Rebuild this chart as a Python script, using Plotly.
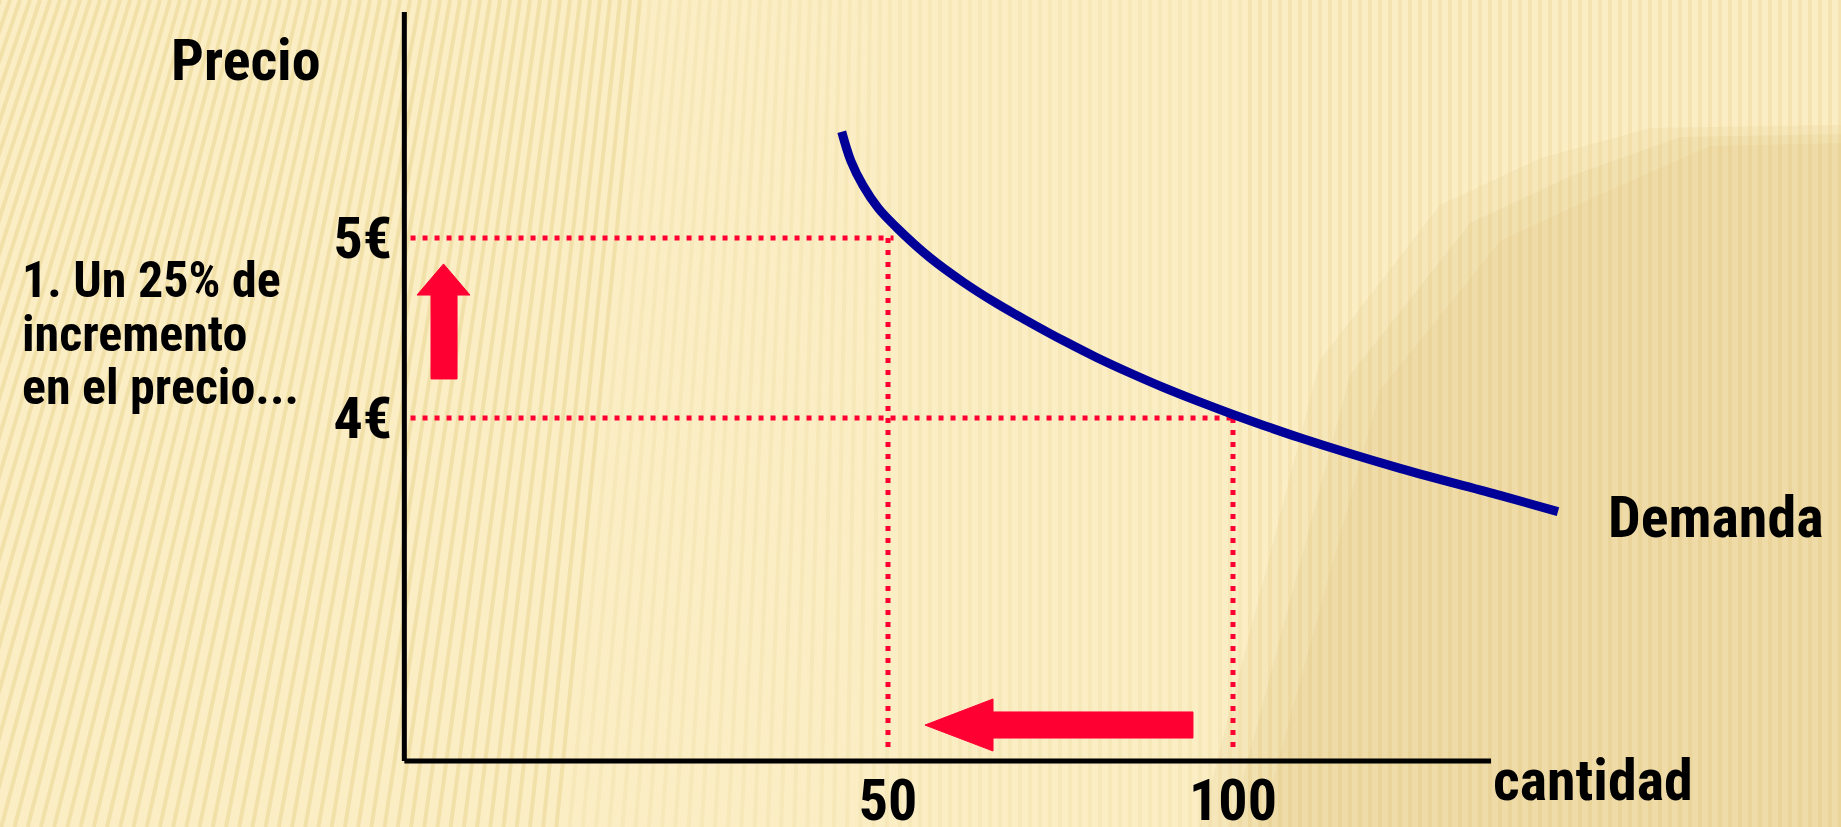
import plotly.graph_objects as go

# Demand curve: quantity (units) and price (€)
cantidad = [43.3, 44.6, 46.4, 48.6, 51.2, 56.1, 60.9, 65.8, 70.6, 75.4,
            80.3, 85.1, 89.9, 94.8, 100.0, 109.7, 124.2, 138.7, 147.1]
precio = [5.59, 5.43, 5.29, 5.165, 5.06, 4.89, 4.755, 4.635, 4.53, 4.43,
          4.335, 4.25, 4.17, 4.095, 4.02, 3.89, 3.72, 3.57, 3.48]

# Marked points: price goes from 4€ to 5€, quantity from 100 to 50
precios_marcados = [5, 4]
cantidades_marcadas = [50, 100]
etiquetas_precio = ["5€", "4€"]
etiquetas_cantidad = ["50", "100"]

W, H = 1841, 827
X_RANGE = [-78.70, 188.12]
Y_RANGE = [1.7278, 6.3222]
Q0, P0 = -20.1, 2.094          # origin of the drawn axes
Q_END, P_END = 137.4, 6.256    # ends of the drawn axes

FONT = "Roboto Condensed, Liberation Sans Narrow, Arial Narrow, Liberation Sans, Arial, sans-serif"
RED = "#FF0033"
NAVY = "#000099"
BG = "#FBEEC5"

fig = go.Figure()

shapes = []

# Background texture: soft stripes, leaning on the left, vertical on the right
for xt in range(-320, 1900, 10):
    lean = max(0.0, (900 - xt) / 900) * 0.35
    xb = xt - lean * H
    if xt < 650:
        a = 0.32
    elif xt < 1250:
        a = 0.13
    else:
        a = 0.24
    shapes.append(dict(type="line", xref="paper", yref="paper",
                       x0=xt / W, y0=1, x1=xb / W, y1=0,
                       line=dict(color=f"rgba(225,196,112,{a})", width=4),
                       layer="below"))

# Darker tan area towards the lower right
for off in [0, 30, 60]:
    pts = [(1841, 125 + off * 0.3), (1650 + off, 128 + off * 0.3),
           (1541 + off, 158 + off * 0.6), (1440 + off, 205 + off * 0.6),
           (1320 + off, 360 + off * 0.5), (1200 + off, 827), (1841, 827)]
    path = "M " + " L ".join(f"{x / W},{1 - y / H}" for x, y in pts) + " Z"
    shapes.append(dict(type="path", xref="paper", yref="paper", path=path,
                       fillcolor="rgba(214,184,105,0.12)", line=dict(width=0),
                       layer="below"))

# Axes lines
shapes.append(dict(type="line", xref="x", yref="y", x0=Q0, y0=P0, x1=Q0, y1=P_END,
                   line=dict(color="black", width=5)))
shapes.append(dict(type="line", xref="x", yref="y", x0=Q0, y0=P0, x1=Q_END, y1=P0,
                   line=dict(color="black", width=5)))

# Upward arrow (price increase)
up = [(-14.42, 4.856), (-10.58, 4.683), (-12.46, 4.683), (-12.46, 4.217),
      (-16.23, 4.217), (-16.23, 4.683), (-18.26, 4.683)]
shapes.append(dict(type="path", xref="x", yref="y",
                   path="M " + " L ".join(f"{x},{y}" for x, y in up) + " Z",
                   fillcolor=RED, line=dict(color=RED, width=1)))

# Leftward arrow (quantity decrease)
left = [(55.36, 2.294), (65.22, 2.439), (65.22, 2.367), (94.2, 2.367),
        (94.2, 2.222), (65.22, 2.222), (65.22, 2.15)]
shapes.append(dict(type="path", xref="x", yref="y",
                   path="M " + " L ".join(f"{x},{y}" for x, y in left) + " Z",
                   fillcolor=RED, line=dict(color=RED, width=1)))

# Dotted guide lines from the axes to the curve
for q, p in zip(cantidades_marcadas, precios_marcados):
    fig.add_trace(go.Scatter(x=[Q0 + 0.9, q + 0.8], y=[p, p], mode="lines",
                             line=dict(color=RED, width=5, dash="5px,7px"),
                             hoverinfo="skip", showlegend=False))
    fig.add_trace(go.Scatter(x=[q, q], y=[p, P0 + 0.06], mode="lines",
                             line=dict(color=RED, width=5, dash="5px,7px"),
                             hoverinfo="skip", showlegend=False))

# Demand curve
fig.add_trace(go.Scatter(x=cantidad, y=precio, mode="lines",
                         line=dict(color=NAVY, width=9, shape="spline", smoothing=1.0),
                         showlegend=False, hoverinfo="skip"))

txt = dict(family=FONT, size=58, color="black", weight="bold")
small = dict(family=FONT, size=50, color="black", weight="bold")

annotations = [
    dict(x=-43.04, y=5.989, text="Precio", xanchor="center", yanchor="middle",
         font=txt, showarrow=False),
    dict(x=cantidad[-1] + 7, y=precio[-1] - 0.03, text="Demanda",
         xanchor="left", yanchor="middle", font=txt, showarrow=False),
    dict(x=Q_END, y=P0 - 0.105, text="cantidad", xanchor="left",
         yanchor="middle", font=txt, showarrow=False),
]
for line_text, yv in zip(["1. Un 25% de", "incremento", "en el precio..."],
                         [4.767, 4.467, 4.172]):
    annotations.append(dict(x=-75.8, y=yv, text=line_text, xanchor="left",
                            yanchor="middle", font=small, showarrow=False))

fig.update_layout(
    width=W, height=H,
    margin=dict(l=0, r=0, t=0, b=0),
    paper_bgcolor=BG, plot_bgcolor="rgba(0,0,0,0)",
    shapes=shapes, annotations=annotations,
    xaxis=dict(range=X_RANGE, domain=[0, 1], anchor="free", position=(H - 761) / H,
               showgrid=False, zeroline=False, showline=False, ticks="",
               tickvals=cantidades_marcadas, ticktext=etiquetas_cantidad,
               tickfont=txt, ticklabelstandoff=0, automargin=False, fixedrange=True),
    yaxis=dict(range=Y_RANGE, domain=[0, 1], anchor="free", position=404 / W,
               showgrid=False, zeroline=False, showline=False, ticks="",
               tickvals=precios_marcados, ticktext=etiquetas_precio,
               tickfont=txt, ticklabelstandoff=12, automargin=False, fixedrange=True),
)

fig.write_html(
    "out.html",
    post_script="document.body.style.margin='0';document.body.style.overflow='hidden';",
)
